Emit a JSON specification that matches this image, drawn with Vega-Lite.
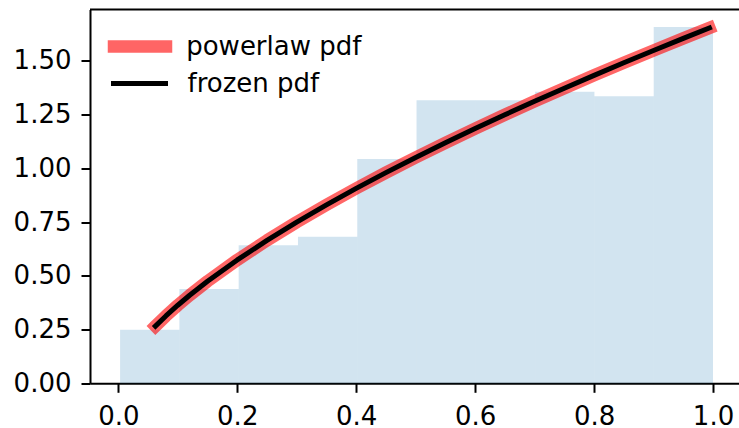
{
  "$schema": "https://vega.github.io/schema/vega-lite/v6.json",
  "autosize": "none",
  "width": 649,
  "height": 373.8,
  "padding": {"left": 90, "top": 9.5, "right": 0, "bottom": 44.7},
  "background": "white",
  "config": {
    "view": {"stroke": null},
    "font": "DejaVu Sans",
    "axis": {
      "domainColor": "black", "domainWidth": 2, "tickColor": "black", "tickWidth": 2, "tickSize": 9,
      "labelFont": "DejaVu Sans", "labelFontSize": 26, "labelColor": "black", "grid": false, "title": null
    },
    "legend": {
      "title": null, "orient": "none", "symbolType": "stroke", "symbolSize": 2704,
      "labelFontSize": 26, "labelFont": "DejaVu Sans", "labelColor": "black",
      "labelLimit": 0, "padding": 0
    }
  },
  "datasets": {
    "bars": [
      {"x0": 0.003, "x1": 0.1027, "h": 0.249},
      {"x0": 0.1027, "x1": 0.2024, "h": 0.439},
      {"x0": 0.2024, "x1": 0.3021, "h": 0.642},
      {"x0": 0.3021, "x1": 0.4018, "h": 0.682},
      {"x0": 0.4018, "x1": 0.5015, "h": 1.044},
      {"x0": 0.5015, "x1": 0.6012, "h": 1.317},
      {"x0": 0.6012, "x1": 0.7009, "h": 1.317},
      {"x0": 0.7009, "x1": 0.8006, "h": 1.356},
      {"x0": 0.8006, "x1": 0.9003, "h": 1.335},
      {"x0": 0.9003, "x1": 1.0, "h": 1.658}
    ],
    "curve": [
      {"s": "powerlaw pdf", "x": 0.0624, "y": 0.2661}, {"s": "powerlaw pdf", "x": 0.08, "y": 0.3134}, {"s": "powerlaw pdf", "x": 0.1, "y": 0.3632},
      {"s": "powerlaw pdf", "x": 0.12, "y": 0.4097}, {"s": "powerlaw pdf", "x": 0.15, "y": 0.4746}, {"s": "powerlaw pdf", "x": 0.2, "y": 0.5739},
      {"s": "powerlaw pdf", "x": 0.25, "y": 0.6648}, {"s": "powerlaw pdf", "x": 0.3, "y": 0.75}, {"s": "powerlaw pdf", "x": 0.35, "y": 0.8302},
      {"s": "powerlaw pdf", "x": 0.4, "y": 0.9067}, {"s": "powerlaw pdf", "x": 0.45, "y": 0.9801}, {"s": "powerlaw pdf", "x": 0.5, "y": 1.0506},
      {"s": "powerlaw pdf", "x": 0.55, "y": 1.1188}, {"s": "powerlaw pdf", "x": 0.6, "y": 1.1849}, {"s": "powerlaw pdf", "x": 0.65, "y": 1.2493},
      {"s": "powerlaw pdf", "x": 0.7, "y": 1.3119}, {"s": "powerlaw pdf", "x": 0.75, "y": 1.3728}, {"s": "powerlaw pdf", "x": 0.8, "y": 1.4326},
      {"s": "powerlaw pdf", "x": 0.85, "y": 1.4912}, {"s": "powerlaw pdf", "x": 0.9, "y": 1.5484}, {"s": "powerlaw pdf", "x": 0.95, "y": 1.6047},
      {"s": "powerlaw pdf", "x": 0.994, "y": 1.6534},
      {"s": "frozen pdf", "x": 0.0624, "y": 0.2661}, {"s": "frozen pdf", "x": 0.08, "y": 0.3134}, {"s": "frozen pdf", "x": 0.1, "y": 0.3632},
      {"s": "frozen pdf", "x": 0.12, "y": 0.4097}, {"s": "frozen pdf", "x": 0.15, "y": 0.4746}, {"s": "frozen pdf", "x": 0.2, "y": 0.5739},
      {"s": "frozen pdf", "x": 0.25, "y": 0.6648}, {"s": "frozen pdf", "x": 0.3, "y": 0.75}, {"s": "frozen pdf", "x": 0.35, "y": 0.8302},
      {"s": "frozen pdf", "x": 0.4, "y": 0.9067}, {"s": "frozen pdf", "x": 0.45, "y": 0.9801}, {"s": "frozen pdf", "x": 0.5, "y": 1.0506},
      {"s": "frozen pdf", "x": 0.55, "y": 1.1188}, {"s": "frozen pdf", "x": 0.6, "y": 1.1849}, {"s": "frozen pdf", "x": 0.65, "y": 1.2493},
      {"s": "frozen pdf", "x": 0.7, "y": 1.3119}, {"s": "frozen pdf", "x": 0.75, "y": 1.3728}, {"s": "frozen pdf", "x": 0.8, "y": 1.4326},
      {"s": "frozen pdf", "x": 0.85, "y": 1.4912}, {"s": "frozen pdf", "x": 0.9, "y": 1.5484}, {"s": "frozen pdf", "x": 0.95, "y": 1.6047},
      {"s": "frozen pdf", "x": 0.994, "y": 1.6534}
    ],
    "top": [{"t": 1.739}]
  },
  "layer": [
    {
      "data": {"name": "bars"},
      "mark": {"type": "rect", "fill": "#1f77b4", "fillOpacity": 0.2, "strokeWidth": 0},
      "encoding": {
        "x": {"field": "x0", "type": "quantitative",
              "scale": {"domain": [-0.0476, 1.0437], "nice": false, "zero": false},
              "axis": {"values": [0, 0.2, 0.4, 0.6, 0.8, 1.0], "format": ".1f", "labelPadding": 11}},
        "x2": {"field": "x1"},
        "y": {"field": "h", "type": "quantitative",
              "scale": {"domain": [0, 1.739], "nice": false},
              "axis": {"values": [0, 0.25, 0.5, 0.75, 1.0, 1.25, 1.5], "format": ".2f", "labelPadding": 10}},
        "y2": {"datum": 0}
      }
    },
    {
      "data": {"name": "curve"},
      "transform": [{"filter": "datum.s == 'powerlaw pdf'"}],
      "mark": {"type": "line", "strokeCap": "square", "strokeJoin": "round", "strokeWidth": 12.5, "opacity": 0.6},
      "encoding": {
        "x": {"field": "x", "type": "quantitative"},
        "y": {"field": "y", "type": "quantitative"},
        "stroke": {"field": "s", "type": "nominal",
                  "scale": {"domain": ["powerlaw pdf"], "range": ["#ff0000"]},
                  "legend": {"legendX": 17.5, "legendY": 4.5, "labelOffset": 13.7,
                             "symbolStrokeWidth": 12.5, "symbolOpacity": 0.6,
                             "encode": {"symbols": {"update": {"strokeCap": {"value": "square"}}}}}}
      }
    },
    {
      "data": {"name": "curve"},
      "transform": [{"filter": "datum.s == 'frozen pdf'"}],
      "mark": {"type": "line", "strokeCap": "square", "strokeJoin": "round", "strokeWidth": 5},
      "encoding": {
        "x": {"field": "x", "type": "quantitative"},
        "y": {"field": "y", "type": "quantitative"},
        "color": {"field": "s", "type": "nominal",
                  "scale": {"domain": ["frozen pdf"], "range": ["#000000"]},
                  "legend": {"legendX": 21, "legendY": 45.5, "labelOffset": 19.5,
                             "symbolStrokeWidth": 5, "symbolOpacity": 1,
                             "encode": {"symbols": {"update": {"strokeCap": {"value": "square"}}}}}}
      }
    },
    {
      "data": {"name": "top"},
      "mark": {"type": "rule", "color": "black", "strokeWidth": 2},
      "encoding": {"y": {"field": "t", "type": "quantitative"}}
    }
  ]
}
